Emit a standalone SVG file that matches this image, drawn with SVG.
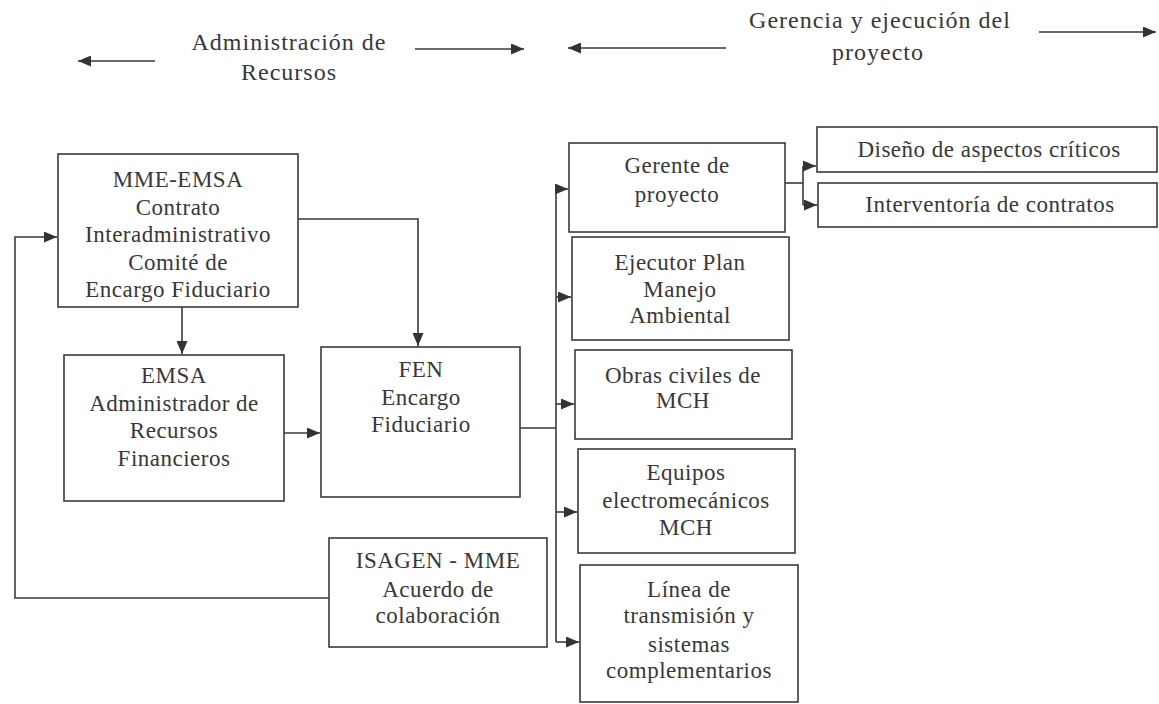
<svg xmlns="http://www.w3.org/2000/svg" width="1159" height="704" viewBox="0 0 1159 704">
<style>
  .bg { fill: #ffffff; }
  .box { fill: none; stroke: #3a3a3a; stroke-width: 1.6; }
  .ln { fill: none; stroke: #3a3a3a; stroke-width: 1.6; }
  .t { font-family: "Liberation Serif", "Times New Roman", serif; font-size: 23px; letter-spacing: 0.5px; fill: #383838; text-anchor: middle; }
  .h { font-family: "Liberation Serif", "Times New Roman", serif; font-size: 24px; letter-spacing: 1px; fill: #383838; text-anchor: middle; }
</style>
<defs>
  <marker id="ah" viewBox="0 0 10 10" refX="10" refY="5" markerWidth="13" markerHeight="11" preserveAspectRatio="none" markerUnits="userSpaceOnUse" orient="auto">
    <path d="M0,0 L10,5 L0,10 z" fill="#333333"/>
  </marker>
</defs>
<rect class="bg" x="0" y="0" width="1159" height="704"/>

<g id="header">
  <line class="ln" x1="155" y1="61" x2="78" y2="61" marker-end="url(#ah)"/>
  <text class="h" x="289" y="50">Administración de</text>
  <text class="h" x="289" y="80">Recursos</text>
  <line class="ln" x1="415" y1="49" x2="524" y2="49" marker-end="url(#ah)"/>
  <line class="ln" x1="726" y1="48" x2="568" y2="48" marker-end="url(#ah)"/>
  <text class="h" x="880" y="28">Gerencia y ejecución del</text>
  <text class="h" x="878" y="60">proyecto</text>
  <line class="ln" x1="1039" y1="32" x2="1156" y2="32" marker-end="url(#ah)"/>
</g>

<g id="connectors">
  <path class="ln" d="M182,307 V354" marker-end="url(#ah)"/>
  <path class="ln" d="M298,219 H418 V346" marker-end="url(#ah)"/>
  <path class="ln" d="M284,433 H320" marker-end="url(#ah)"/>
  <path class="ln" d="M520,428 H556"/>
  <path class="ln" d="M556,189 V642"/>
  <path class="ln" d="M556,189 H568" marker-end="url(#ah)"/>
  <path class="ln" d="M556,297 H571" marker-end="url(#ah)"/>
  <path class="ln" d="M556,404 H574" marker-end="url(#ah)"/>
  <path class="ln" d="M556,512 H577" marker-end="url(#ah)"/>
  <path class="ln" d="M556,642 H579" marker-end="url(#ah)"/>
  <path class="ln" d="M785,183 H803"/>
  <path class="ln" d="M803,166 V205"/>
  <path class="ln" d="M803,166 H816" marker-end="url(#ah)"/>
  <path class="ln" d="M803,205 H817" marker-end="url(#ah)"/>
  <path class="ln" d="M329,598 H15 V237 H57" marker-end="url(#ah)"/>
</g>

<g id="mme-emsa">
  <rect class="box" x="58" y="154" width="240" height="153"/>
  <text class="t" x="178" y="187">MME-EMSA</text>
  <text class="t" x="178" y="215">Contrato</text>
  <text class="t" x="178" y="242">Interadministrativo</text>
  <text class="t" x="178" y="270">Comité de</text>
  <text class="t" x="178" y="297">Encargo Fiduciario</text>
</g>

<g id="emsa">
  <rect class="box" x="64" y="355" width="220" height="146"/>
  <text class="t" x="174" y="383">EMSA</text>
  <text class="t" x="174" y="411">Administrador de</text>
  <text class="t" x="174" y="438">Recursos</text>
  <text class="t" x="174" y="466">Financieros</text>
</g>

<g id="fen">
  <rect class="box" x="321" y="347" width="199" height="150"/>
  <text class="t" x="421" y="377">FEN</text>
  <text class="t" x="421" y="405">Encargo</text>
  <text class="t" x="421" y="432">Fiduciario</text>
</g>

<g id="isagen">
  <rect class="box" x="329" y="538" width="218" height="109"/>
  <text class="t" x="438" y="568">ISAGEN - MME</text>
  <text class="t" x="438" y="597">Acuerdo de</text>
  <text class="t" x="438" y="623">colaboración</text>
</g>

<g id="gerente">
  <rect class="box" x="569" y="143" width="216" height="89"/>
  <text class="t" x="677" y="173">Gerente de</text>
  <text class="t" x="677" y="202">proyecto</text>
</g>

<g id="ejecutor">
  <rect class="box" x="572" y="237" width="217" height="103"/>
  <text class="t" x="680" y="270">Ejecutor Plan</text>
  <text class="t" x="680" y="297">Manejo</text>
  <text class="t" x="680" y="323">Ambiental</text>
</g>

<g id="obras">
  <rect class="box" x="575" y="350" width="217" height="89"/>
  <text class="t" x="683" y="383">Obras civiles de</text>
  <text class="t" x="683" y="408">MCH</text>
</g>

<g id="equipos">
  <rect class="box" x="578" y="449" width="217" height="104"/>
  <text class="t" x="686" y="480">Equipos</text>
  <text class="t" x="686" y="508">electromecánicos</text>
  <text class="t" x="686" y="535">MCH</text>
</g>

<g id="linea">
  <rect class="box" x="580" y="565" width="218" height="137"/>
  <text class="t" x="689" y="597">Línea de</text>
  <text class="t" x="689" y="623">transmisión y</text>
  <text class="t" x="689" y="652">sistemas</text>
  <text class="t" x="689" y="678">complementarios</text>
</g>

<g id="diseno">
  <rect class="box" x="817" y="127" width="340" height="45"/>
  <text class="t" x="989" y="157">Diseño de aspectos críticos</text>
</g>

<g id="interventoria">
  <rect class="box" x="818" y="183" width="339" height="44"/>
  <text class="t" x="990" y="212">Interventoría de contratos</text>
</g>
</svg>
